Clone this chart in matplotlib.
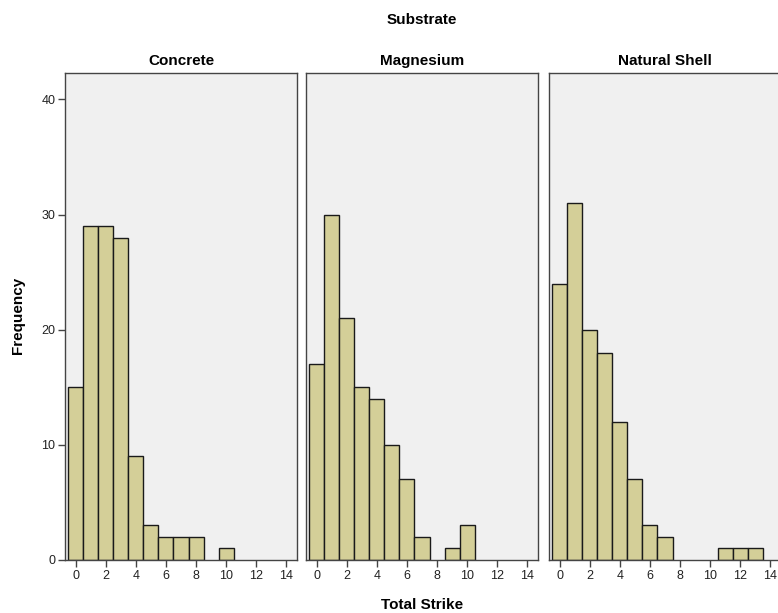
import matplotlib
matplotlib.use("Agg")
import matplotlib.pyplot as plt
import numpy as np

plt.rcParams['font.family'] = ['Liberation Sans', 'DejaVu Sans']

panels = ["Concrete", "Magnesium", "Natural Shell"]
strike_values = list(range(0, 14))
concrete = [15, 29, 29, 28, 9, 3, 2, 2, 2, 0, 1, 0, 0, 0]
magnesium = [17, 30, 21, 15, 14, 10, 7, 2, 0, 1, 3, 0, 0, 0]
natural_shell = [24, 31, 20, 18, 12, 7, 3, 2, 0, 0, 0, 1, 1, 1]
series = [concrete, magnesium, natural_shell]
x_ticks = list(range(0, 15, 2))
y_ticks = [0, 10, 20, 30, 40]

W, H = 778, 613
fig = plt.figure(figsize=(W / 100, H / 100), dpi=100)

lefts = [65, 306, 549]
pw = 232
top, bottom = 73, 560
bar_color = "#D4CF98"
bg = "#F0F0F0"

for i, (name, vals) in enumerate(zip(panels, series)):
    ax = fig.add_axes([lefts[i] / W, (H - bottom) / H, pw / W, (bottom - top) / H])
    ax.set_facecolor(bg)
    lws = [1.0 if v > 0 else 0.0 for v in vals]
    ax.bar(strike_values, vals, width=1.0, color=bar_color, edgecolor="#1a1a1a", linewidth=lws)
    ax.set_xlim(-0.7, 14.7)
    ax.set_ylim(0, 42.3)
    ax.set_xticks(x_ticks)
    ax.set_xticklabels([str(t) for t in x_ticks], fontsize=9, color="#222222")
    ax.tick_params(axis='x', direction='out', length=5, width=1, color="#444444", pad=2)
    if i == 0:
        ax.set_yticks(y_ticks)
        ax.set_yticklabels([str(t) for t in y_ticks], fontsize=9, color="#222222")
        ax.tick_params(axis='y', direction='out', length=5, width=1, color="#444444", pad=2)
    else:
        ax.set_yticks([])
    for s in ax.spines.values():
        s.set_color("#444444")
        s.set_linewidth(1.0)
    ax.set_title(name, fontsize=11, fontweight='bold', pad=6)

fig.text(422 / W, 1 - 20 / H, "Substrate", ha='center', va='center', fontsize=11, fontweight='bold')
fig.text(422 / W, 1 - 605 / H, "Total Strike", ha='center', va='center', fontsize=11, fontweight='bold')
fig.text(18 / W, 1 - 315 / H, "Frequency", ha='center', va='center', rotation=90, fontsize=11, fontweight='bold')

fig.savefig("out.png", dpi=100, facecolor="white")
